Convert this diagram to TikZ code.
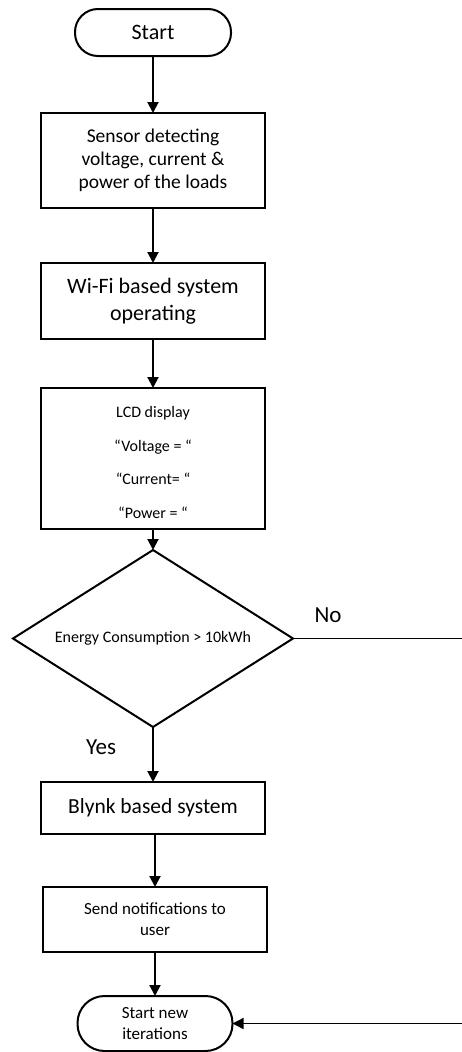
\documentclass[tikz,border=0pt]{standalone}
\usepackage{fontspec}
\setmainfont{Carlito}
\usetikzlibrary{positioning}
\usetikzlibrary{shapes.geometric,arrows.meta}

\begin{document}
\begin{tikzpicture}[x=1pt, y=1pt, line width=2pt,
  >={Triangle[width=11pt,length=11pt]},
  box/.style = {draw, rectangle, minimum width=224pt, align=center, inner sep=0pt, outer sep=0pt},
  term/.style = {draw, rectangle, align=center, inner sep=0pt, outer sep=0pt},
  decision/.style = {draw, diamond, aspect=1.6, minimum width=280pt, minimum height=177pt, inner sep=0pt, outer sep=0pt}]
  \useasboundingbox (0,0) rectangle (461,-1052);
  % Nodes
  \node[term, rounded corners=23pt, minimum width=156pt, minimum height=47pt, font=\fontsize{22}{27}\selectfont] (start) at (153,-32.5) {Start};
  \node[box, minimum height=95pt, font=\fontsize{19.5}{23}\selectfont] (sensor) [below=57pt of start] {Sensor detecting\\voltage, current \&\\power of the loads};
  \node[box, minimum height=76pt, font=\fontsize{22}{27}\selectfont] (wifi) [below=55pt of sensor] {Wi-Fi based system\\operating};
  \node[box, minimum height=141pt, font=\fontsize{16}{33.7}\selectfont] (lcd) [below=49pt of wifi] {\rule{0pt}{19pt}LCD display\\“Voltage = “\\“Current= “\\“Power = “};
  \node[decision, font=\fontsize{16}{20}\selectfont] (dec) [below=21pt of lcd] {Energy Consumption > 10kWh};
  \node[box, minimum height=52pt, font=\fontsize{21.5}{26}\selectfont] (blynk) [below=55pt of dec] {Blynk based system};
  \node[box, minimum height=65pt, font=\fontsize{17}{21}\selectfont] (notify) [below=53pt of blynk, xshift=2pt] {Send notifications to\\user};
  \node[term, rounded corners=27pt, minimum width=155pt, minimum height=55pt, font=\fontsize{17}{21}\selectfont] (iter) [below=44pt of notify] {Start new\\iterations};
  \node[font=\fontsize{23}{28}\selectfont] (no) at (328,-615) {No};
  \node[font=\fontsize{23}{28}\selectfont] (yes) at (101,-747) {Yes};
  \coordinate (rim) at (466,0);
  % Edges
  \draw[->] (start) -- (sensor);
  \draw[->] (sensor) -- (wifi);
  \draw[->] (wifi) -- (lcd);
  \draw[->] (lcd) -- (dec);
  \draw[->] (dec) -- (blynk);
  \draw[->] (blynk.south -| notify) -- (notify);
  \draw[->] (notify) -- (iter);
  \draw[->, line width=1.4pt] (dec.east) -- (dec.east -| rim) |- (iter.east);
\end{tikzpicture}
\end{document}
